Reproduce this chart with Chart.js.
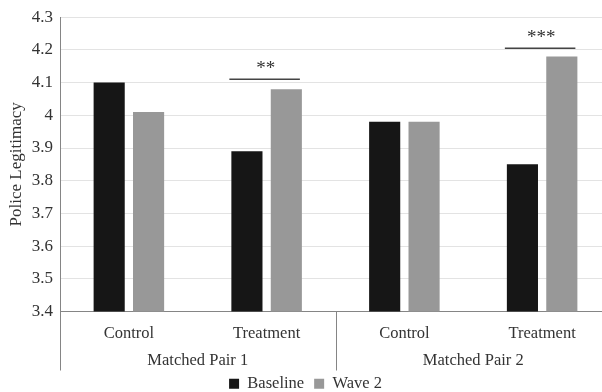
<!DOCTYPE html>
<html>
<head>
<meta charset="utf-8">
<script src="https://cdn.jsdelivr.net/npm/chart.js@4"></script>
<style>
  html, body { margin: 0; padding: 0; background: #fff; overflow: hidden; }
  #wrap { width: 612px; height: 402px; }
</style>
</head>
<body>
<div id="wrap"><canvas id="chartLegit"></canvas></div>
<script>
const categories = ['Control', 'Treatment', 'Control', 'Treatment'];
const groups = ['Matched Pair 1', 'Matched Pair 2'];
const baseline = [4.10, 3.89, 3.98, 3.85];
const wave2 = [4.01, 4.08, 3.98, 4.18];
const yMin = 3.4, yMax = 4.3, yStep = 0.1;
// significance brackets: category index, label, height (in data units)
const sigIndex = [1, 3];
const sigLabels = ['**', '***'];
const sigLevels = [4.11, 4.205];

const serif = "'Liberation Serif', 'Times New Roman', serif";
const textColor = '#333';
const axisColor = '#858585';

// second row of x labels + separators + significance marks
const extras = {
  id: 'extras',
  afterDraw(chart) {
    const c = chart.ctx, xs = chart.scales.x, ys = chart.scales.y, a = chart.chartArea;
    const bottom = a.bottom + 59;
    c.save();
    c.strokeStyle = axisColor;
    c.lineWidth = 1;
    const seps = [a.left, (xs.getPixelForValue(1) + xs.getPixelForValue(2)) / 2, a.right];
    seps.forEach(x => {
      c.beginPath();
      c.moveTo(Math.round(x) + 0.5, a.bottom);
      c.lineTo(Math.round(x) + 0.5, bottom);
      c.stroke();
    });
    c.fillStyle = textColor;
    c.font = '16.5px ' + serif;
    c.textAlign = 'center';
    c.textBaseline = 'middle';
    groups.forEach((g, i) => {
      const x = (xs.getPixelForValue(i * 2) + xs.getPixelForValue(i * 2 + 1)) / 2;
      c.fillText(g, x, a.bottom + 49.5);
    });
    c.font = '19px ' + serif;
    sigIndex.forEach((idx, k) => {
      const b0 = chart.getDatasetMeta(0).data[idx];
      const b1 = chart.getDatasetMeta(1).data[idx];
      const l = b0.x - b0.width / 2, r = b1.x + b1.width / 2;
      const y = ys.getPixelForValue(sigLevels[k]);
      c.strokeStyle = '#444';
      c.lineWidth = 1.5;
      c.beginPath();
      c.moveTo(l - 2, y);
      c.lineTo(r - 2, y);
      c.stroke();
      c.textBaseline = 'bottom';
      c.fillText(sigLabels[k], (l + r) / 2 - 1, y - 1);
    });
    c.restore();
  }
};

const ctx = document.getElementById('chartLegit');

new Chart(ctx, {
  type: 'bar',
  data: {
    labels: categories,
    datasets: [{
      label: 'Baseline',
      data: baseline,
      backgroundColor: '#161616',
      categoryPercentage: 0.572,
      barPercentage: 0.79
    }, {
      label: 'Wave 2',
      data: wave2,
      backgroundColor: '#989898',
      categoryPercentage: 0.572,
      barPercentage: 0.79
    }]
  },
  options: {
    responsive: true,
    maintainAspectRatio: false,
    animation: false,
    layout: { padding: { top: 16, right: 1, left: 0, bottom: 0 } },
    plugins: {
      tooltip: { enabled: false },
      legend: {
        position: 'bottom',
        labels: {
          boxWidth: 10,
          boxHeight: 10,
          padding: 10,
          color: textColor,
          font: { family: serif, size: 16.5 }
        }
      }
    },
    scales: {
      x: {
        grid: { display: false, drawTicks: false },
        border: { display: true, color: axisColor },
        ticks: { color: textColor, padding: 12, font: { family: serif, size: 16.5 } },
        afterFit(scale) { scale.height = 54; }
      },
      y: {
        min: yMin,
        max: yMax,
        grid: { color: '#e3e3e3', drawTicks: false },
        border: { display: true, color: axisColor },
        ticks: {
          stepSize: yStep,
          color: textColor,
          padding: 7,
          font: { family: serif, size: 17 },
          callback: v => String(Number(v.toFixed(1)))
        },
        title: {
          display: true,
          text: 'Police Legitimacy',
          color: textColor,
          padding: { top: 6, bottom: 0 },
          font: { family: serif, size: 17 }
        },
        afterFit(scale) { scale.width = 60; }
      }
    }
  },
  plugins: [extras]
});
</script>
</body>
</html>
